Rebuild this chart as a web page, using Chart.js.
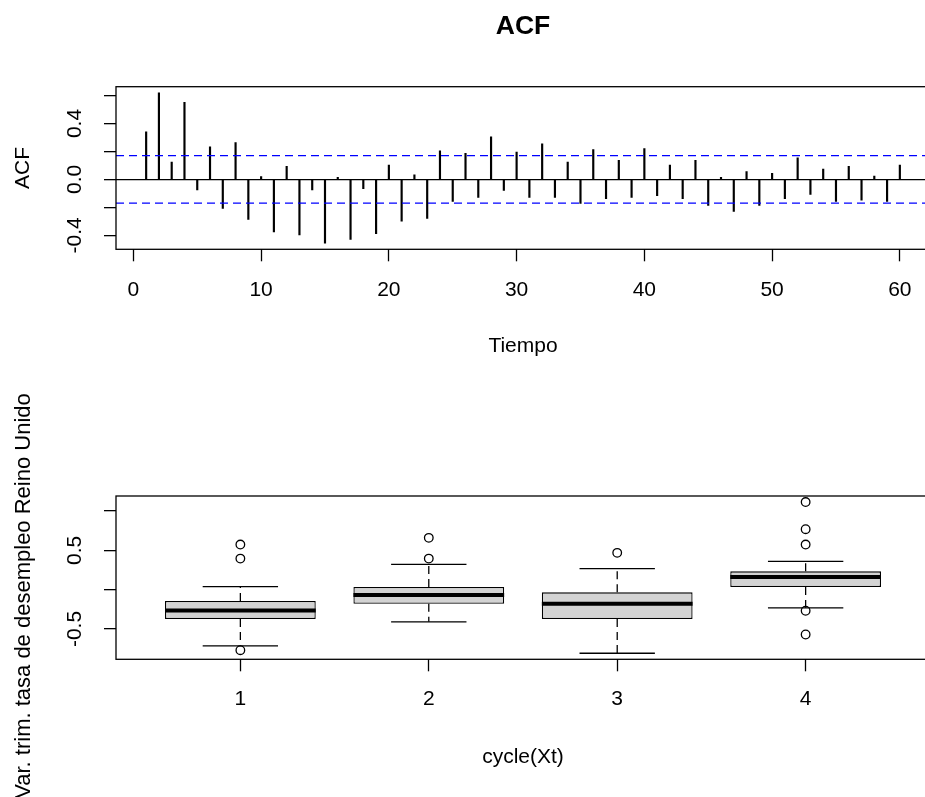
<!DOCTYPE html>
<html><head><meta charset="utf-8">
<script src="https://cdn.jsdelivr.net/npm/chart.js@4.4.1/dist/chart.umd.min.js"></script>
<style>
html,body{margin:0;padding:0;background:#fff;overflow:hidden;width:925px;height:797px;position:relative;}
#c1{position:absolute;left:0;top:0;}
#c2{position:absolute;left:0;top:380px;}
#ylab2{position:absolute;left:-276.65px;top:583px;width:600px;height:26px;line-height:26px;text-align:center;
  font-family:"Liberation Sans",Arial,sans-serif;font-size:22px;color:#000;transform:rotate(-90deg);transform-origin:50% 50%;white-space:nowrap;}
</style></head><body>
<canvas id="c1" width="940" height="380"></canvas>
<canvas id="c2" width="940" height="417"></canvas>
<div id="ylab2">Var. trim. tasa de desempleo Reino Unido</div>
<script>
// ---------- ACF panel data ----------
const acfLags = [1,2,3,4,5,6,7,8,9,10,11,12,13,14,15,16,17,18,19,20,
  21,22,23,24,25,26,27,28,29,30,31,32,33,34,35,36,37,38,39,40,
  41,42,43,44,45,46,47,48,49,50,51,52,53,54,55,56,57,58,59,60];
const acfValues = [0.34,0.62,0.124,0.552,-0.076,0.233,-0.207,0.264,-0.286,0.021,
  -0.376,0.093,-0.398,-0.076,-0.457,0.014,-0.429,-0.067,-0.388,0.102,
  -0.298,0.033,-0.279,0.205,-0.157,0.186,-0.129,0.305,-0.079,0.195,
  -0.129,0.255,-0.129,0.124,-0.171,0.214,-0.138,0.136,-0.129,0.221,
  -0.117,0.102,-0.138,0.136,-0.186,0.014,-0.229,0.055,-0.186,0.043,
  -0.138,0.155,-0.107,0.074,-0.157,0.093,-0.148,0.024,-0.157,0.102];
const acfBand = 0.17;
const acfXTicks = [0,10,20,30,40,50,60];
const acfYTicks = [-0.4,-0.2,0,0.2,0.4,0.6];
const acfYLabels = ['-0.4','','0.0','','0.4',''];
const acfXRange = [-1.36, 62.36];
const acfYRange = [-0.5, 0.663];

// ---------- Boxplot panel data ----------
const cycles = [1,2,3,4];
const boxLowWhisker = [-0.714,-0.408,-0.808,-0.230];
const boxQ1 = [-0.374,-0.179,-0.374,0.034];
const boxMedian = [-0.264,-0.068,-0.179,0.162];
const boxQ3 = [-0.144,0.034,-0.034,0.233];
const boxHighWhisker = [0.038,0.323,0.268,0.361];
const boxOutliers = [[0.574,0.395,-0.769],[0.659,0.395],[0.468],[1.114,0.769,0.574,-0.268,-0.570]];
const boxXTicks = [1,2,3,4];
const boxYTicks = [-0.5,0,0.5,1.0];
const boxYLabels = ['-0.5','','0.5',''];
const boxXRange = [0.34, 4.66];
const boxYRange = [-0.885, 1.191];

// ---------- styles ----------
const FONT = '"Liberation Sans", Arial, sans-serif';
const LW = 1.3;
const BOX_HALF = 0.4;   // half box width (x units)
const CAP_HALF = 0.2;   // half staple width (x units)
Chart.defaults.font.family = FONT;
Chart.defaults.font.size = 21;
Chart.defaults.color = '#000';

const framePlugin = {
  id: 'frame',
  afterDraw(chart) {
    const {ctx, chartArea: a} = chart;
    ctx.save();
    ctx.strokeStyle = '#000';
    ctx.lineWidth = LW;
    ctx.strokeRect(a.left, a.top, a.right - a.left, a.bottom - a.top);
    ctx.restore();
  }
};

function xAxis(range, ticks, titleText, height, tickPad, titlePad) {
  return {
    type: 'linear', position: 'bottom', min: range[0], max: range[1], offset: false,
    afterBuildTicks: s => { s.ticks = ticks.map(v => ({value: v})); },
    afterFit: s => { s.height = height; },
    ticks: {autoSkip: false, maxRotation: 0, minRotation: 0, padding: tickPad,
      callback: (v, i) => String(ticks[i]), font: {size: 21}},
    grid: {display: true, drawOnChartArea: false, drawTicks: true, tickLength: 12,
      tickColor: '#000', tickWidth: LW, offset: false},
    border: {display: false},
    title: {display: true, text: titleText, font: {size: 21}, padding: {top: 0, bottom: titlePad}}
  };
}
function yAxis(range, ticks, labels, titleText, zeroLine) {
  return {
    type: 'linear', position: 'left', min: range[0], max: range[1],
    afterBuildTicks: s => { s.ticks = ticks.map(v => ({value: v})); },
    afterFit: s => { s.width = 116; },
    ticks: {autoSkip: false, minRotation: 90, maxRotation: 90, crossAlign: 'center', padding: 10.9,
      callback: (v, i) => labels[i], font: {size: 21}},
    grid: {display: true, drawOnChartArea: zeroLine, drawTicks: true, tickLength: 12,
      tickColor: '#000', tickWidth: LW, lineWidth: LW,
      color: c => (zeroLine && c.tick && c.tick.value === 0) ? '#000' : 'rgba(0,0,0,0)'},
    border: {display: false},
    title: {display: !!titleText, text: titleText || '', font: {size: 21}, padding: {top: 10.75, bottom: 0}}
  };
}

// ---------- ACF chart ----------
new Chart(document.getElementById('c1'), {
  type: 'bar',
  data: {
    datasets: [
      {type: 'bar', data: acfLags.map((x, i) => ({x: x, y: acfValues[i]})),
        backgroundColor: '#000', borderWidth: 0, barThickness: 1.5, order: 2},
      {type: 'line', data: [{x: acfXRange[0], y: acfBand}, {x: acfXRange[1], y: acfBand}],
        borderColor: '#0000ff', borderWidth: LW, borderDash: [8, 5], pointRadius: 0, order: 1},
      {type: 'line', data: [{x: acfXRange[0], y: -acfBand}, {x: acfXRange[1], y: -acfBand}],
        borderColor: '#0000ff', borderWidth: LW, borderDash: [8, 5], pointRadius: 0, order: 1}
    ]
  },
  options: {
    responsive: false, animation: false, devicePixelRatio: 1,
    layout: {padding: {left: 0, right: 10, top: 0, bottom: 0}},
    plugins: {
      legend: {display: false}, tooltip: {enabled: false},
      title: {display: true, text: 'ACF', fullSize: false, font: {size: 26.5, weight: 'bold'},
        color: '#000', padding: {top: 11.1, bottom: 43.8}}
    },
    scales: {
      x: xAxis(acfXRange, acfXTicks, 'Tiempo', 130.7, 16.3, 21.4),
      y: yAxis(acfYRange, acfYTicks, acfYLabels, 'ACF', true)
    }
  },
  plugins: [framePlugin]
});

// ---------- Boxplot chart ----------
const medianPts = [], whiskerPts = [], capPts = [], outlierPts = [];
cycles.forEach((c, i) => {
  medianPts.push({x: c - BOX_HALF, y: boxMedian[i]}, {x: c + BOX_HALF, y: boxMedian[i]}, {x: c, y: null});
  whiskerPts.push({x: c, y: boxQ3[i]}, {x: c, y: boxHighWhisker[i]}, {x: c, y: null},
                  {x: c, y: boxQ1[i]}, {x: c, y: boxLowWhisker[i]}, {x: c, y: null});
  capPts.push({x: c - CAP_HALF, y: boxHighWhisker[i]}, {x: c + CAP_HALF, y: boxHighWhisker[i]}, {x: c, y: null},
              {x: c - CAP_HALF, y: boxLowWhisker[i]}, {x: c + CAP_HALF, y: boxLowWhisker[i]}, {x: c, y: null});
  boxOutliers[i].forEach(v => outlierPts.push({x: c, y: v}));
});

new Chart(document.getElementById('c2'), {
  type: 'bar',
  data: {
    datasets: [
      {type: 'line', data: outlierPts, showLine: false, pointStyle: 'circle', pointRadius: 4.3,
        pointBorderWidth: LW, pointBorderColor: '#000', pointBackgroundColor: 'rgba(0,0,0,0)', order: 0},
      {type: 'line', data: medianPts, borderColor: '#000', borderWidth: 4, borderCapStyle: 'butt',
        pointRadius: 0, spanGaps: false, order: 1},
      {type: 'bar', data: cycles.map((c, i) => ({x: c, y: [boxQ1[i], boxQ3[i]]})),
        backgroundColor: '#d3d3d3', borderColor: '#000', borderWidth: LW, borderSkipped: false,
        barPercentage: 0.8, categoryPercentage: 1, order: 2},
      {type: 'line', data: capPts, borderColor: '#000', borderWidth: LW, pointRadius: 0, spanGaps: false, order: 3},
      {type: 'line', data: whiskerPts, borderColor: '#000', borderWidth: LW, borderDash: [8, 5],
        pointRadius: 0, spanGaps: false, order: 4}
    ]
  },
  options: {
    responsive: false, animation: false, devicePixelRatio: 1,
    layout: {padding: {left: 0, right: 10, top: 116, bottom: 0}},
    plugins: {legend: {display: false}, tooltip: {enabled: false}},
    scales: {
      x: xAxis(boxXRange, boxXTicks, 'cycle(Xt)', 137.7, 15.3, 26.7),
      y: yAxis(boxYRange, boxYTicks, boxYLabels, '', false)
    }
  },
  plugins: [framePlugin]
});
</script>
</body></html>
